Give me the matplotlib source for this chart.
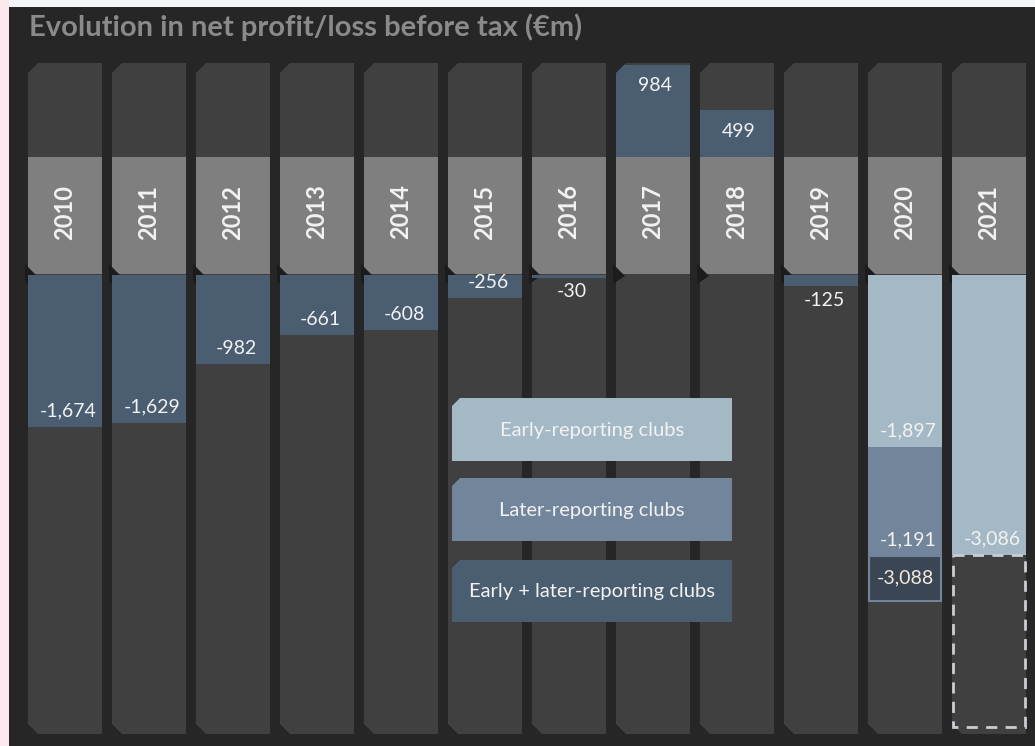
import numpy as np
import matplotlib
matplotlib.use('Agg')
from matplotlib import pyplot as plt
from matplotlib.patches import Polygon, Rectangle

# ---- data (EUR m) ----
years = ['2010', '2011', '2012', '2013', '2014', '2015',
         '2016', '2017', '2018', '2019', '2020', '2021']
# early + later-reporting clubs together
combined = [-1674, -1629, -982, -661, -608, -256, -30, 984, 499, -125, -3088, np.nan]
# split for the covid years
early = [np.nan] * 10 + [-1897, -3086]
later = [np.nan] * 10 + [-1191, np.nan]
legend_labels = ['Early-reporting clubs', 'Later-reporting clubs',
                 'Early + later-reporting clubs']
title = 'Evolution in net profit/loss before tax (€m)'

# ---- colours ----
c_panel = '#262626'
c_col = '#414041'
c_band = '#7f7f7f'
c_comb = '#4b5d70'
c_later = '#73859b'
c_early = '#a4b8c5'
c_text = '#f2f2f2'

# ---- layout (pixels of the 1035x746 picture) ----
W, H = 1035, 746
col_x0, pitch, col_w = 28, 84, 74
col_top, col_bot = 63, 734
band_top, band_bot = 157, 274
zero_px = 275
neg_min = -5050
pos_max = 1005

plt.rcParams['font.family'] = ['Lato', 'DejaVu Sans']

fig = plt.figure(figsize=(W / 100, H / 100), dpi=100)
fig.patch.set_facecolor('#f3f5f9')


def fig_rect(x0, y0, x1, y1):
    # pixel box -> figure fraction box
    return [x0 / W, 1 - y1 / H, (x1 - x0) / W, (y1 - y0) / H]


# background axes in pixel coordinates
bg = fig.add_axes([0, 0, 1, 1])
bg.set_xlim(0, W)
bg.set_ylim(H, 0)
bg.axis('off')
bg.add_patch(Rectangle((0, 0), 9, H, color='#fce9ee', lw=0))
bg.add_patch(Rectangle((9, 7), W - 9, H - 7, color=c_panel, lw=0))
bg.text(29, 27, title, fontsize=21, fontweight='bold', color='#8a8a8a',
        va='center', ha='left')

columns = []
ch = 10
for i, yr in enumerate(years):
    x0 = col_x0 + i * pitch
    x1 = x0 + col_w
    pts = [(x0 + ch, col_top), (x1, col_top), (x1, col_bot),
           (x0 + ch, col_bot), (x0, col_bot - ch), (x0, col_top + ch)]
    p = Polygon(pts, closed=True, color=c_col, lw=0)
    bg.add_patch(p)
    columns.append(p)
    bg.add_patch(Rectangle((x0, band_top), col_w, band_bot - band_top,
                           color=c_band, lw=0, zorder=3))
    bg.add_patch(Polygon([(x0 - 3, band_bot - 10), (x0 + 9, band_bot + 2),
                          (x0 - 3, band_bot + 10)], closed=True,
                         color='#1c1c1c', lw=0, zorder=4))
    bg.text(x0 + col_w / 2, 212, yr, rotation=90, fontsize=17,
            fontweight='bold', color=c_text, ha='center', va='center', zorder=5)

# legend boxes
leg_cols = [c_early, c_later, c_comb]
leg_y = [(398, 461), (478, 541), (560, 622)]
for lab, col, (y0, y1) in zip(legend_labels, leg_cols, leg_y):
    lx0, lx1 = 452, 732
    bg.add_patch(Polygon([(lx0 + 8, y0), (lx1, y0), (lx1, y1), (lx0, y1),
                          (lx0, y0 + 8)], closed=True, color=col, lw=0, zorder=6))
    bg.text((lx0 + lx1) / 2, (y0 + y1) / 2 + 1, lab, fontsize=14.5,
            color=c_text, ha='center', va='center', zorder=7)

# data axes: positive part above the year band, negative part below it
ax_pos = fig.add_axes(fig_rect(23, col_top, 1031, band_top))
ax_neg = fig.add_axes(fig_rect(23, zero_px, 1031, col_bot))
for ax in (ax_pos, ax_neg):
    ax.set_xlim(-0.5, len(years) - 0.5)
    ax.patch.set_alpha(0)
    ax.axis('off')
ax_pos.set_ylim(0, pos_max)
ax_neg.set_ylim(neg_min, 0)

bw = col_w / pitch
px = -neg_min / (col_bot - zero_px)  # EUR m per pixel below the band
lab_kw = dict(textcoords='offset pixels', ha='center', va='center',
              fontsize=14, color=c_text)

for i in range(len(years)):
    v = combined[i]
    if not np.isnan(early[i]):
        continue
    if v > 0:
        b = ax_pos.bar(i, v, bw, color=c_comb, lw=0)[0]
        b.set_clip_path(columns[i])
        ax_pos.annotate(f'{v:,.0f}', xy=(i, v), xytext=(2, -21), **lab_kw)
    else:
        b = ax_neg.bar(i, v, bw, color=c_comb, lw=0)[0]
        b.set_clip_path(columns[i])
        off = 16 if -v / px > 20 else -14
        ax_neg.annotate(f'{v:,.0f}', xy=(i, v), xytext=(3, off), **lab_kw)

# stacked early / later bars
for i in range(len(years)):
    if np.isnan(early[i]):
        continue
    ax_neg.bar(i, early[i], bw, color=c_early, lw=0)
    ax_neg.annotate(f'{early[i]:,.0f}', xy=(i, early[i]), xytext=(3, 17), **lab_kw)
    end = early[i]
    if not np.isnan(later[i]):
        end = early[i] + later[i]
        ax_neg.bar(i, later[i], bw, bottom=early[i], color=c_later, lw=0)
        ax_neg.annotate(f'{later[i]:,.0f}', xy=(i, end), xytext=(3, 16), **lab_kw)
    if not np.isnan(combined[i]):
        # total shown as a boxed label under the stack
        box_h = 45 * px
        ax_neg.bar(i, -box_h, bw * 0.97, bottom=end, color='#3b4654',
                   edgecolor='#71849a', lw=1.5)
        ax_neg.annotate(f'{combined[i]:,.0f}', xy=(i, end - box_h / 2),
                        xytext=(0, 0), textcoords='offset pixels', ha='center',
                        va='center', fontsize=14, color='#f3e9dc')
    else:
        # pending later-reporting clubs: dashed placeholder
        bottom_v = neg_min + 7 * px
        ax_neg.bar(i, bottom_v - end, bw * 0.97, bottom=end, color=c_col,
                   edgecolor='#c9ced4', lw=2, linestyle=(0, (4, 3)))

fig.savefig('out.png', dpi=100, facecolor=fig.get_facecolor())
